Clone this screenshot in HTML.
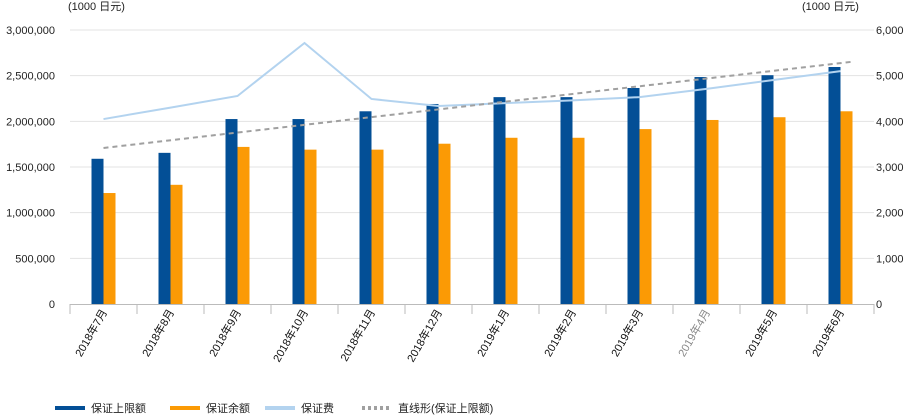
<!DOCTYPE html>
<html><head><meta charset="utf-8"><style>
body{margin:0;background:#fff;}
svg{font-family:"Liberation Sans","Noto Sans CJK SC",sans-serif;}
</style></head><body>
<svg id="c" width="918" height="415" xmlns="http://www.w3.org/2000/svg"></svg>
<script>
const categories=["2018年7月","2018年8月","2018年9月","2018年10月","2018年11月","2018年12月","2019年1月","2019年2月","2019年3月","2019年4月","2019年5月","2019年6月"];
const limitValues=[1590000,1655000,2025000,2025000,2110000,2190000,2265000,2265000,2365000,2485000,2505000,2595000];
const balanceValues=[1215000,1305000,1720000,1690000,1690000,1755000,1820000,1820000,1915000,2015000,2045000,2110000];
const feeValues=[4050,4300,4555,5715,4490,4335,4400,4460,4530,4710,4905,5100];
const leftTicks=["0","500,000","1,000,000","1,500,000","2,000,000","2,500,000","3,000,000"];
const rightTicks=["0","1,000","2,000","3,000","4,000","5,000","6,000"];
const NS="http://www.w3.org/2000/svg",svg=document.getElementById('c');
function mk(t,a,txt){const e=document.createElementNS(NS,t);for(const k in a)e.setAttribute(k,a[k]);if(txt!=null)e.textContent=txt;svg.appendChild(e);return e;}
const X0=70,X1=874,Y0=304,Y1=30,n=categories.length,cw=(X1-X0)/n;
const yL=v=>Y0-(v/3000000)*(Y0-Y1), yR=v=>Y0-(v/6000)*(Y0-Y1), cx=i=>X0+cw*(i+0.5);
leftTicks.forEach((t,i)=>{const y=Y0-i*(Y0-Y1)/6;
 if(i>0){const g=mk('line',{x1:X0,x2:X1,y1:y,y2:y,stroke:'#e3e3e3','stroke-width':1});}
 const a=mk('text',{x:55,y:y+4,'text-anchor':'end','font-size':11,fill:'#222'},t);
 const b=mk('text',{x:876,y:y+4,'font-size':11,fill:'#222'},rightTicks[i]);
});
let e=mk('text',{x:68,y:10,'font-size':11,fill:'#222'},"(1000 日元)");
e=mk('text',{x:802,y:10,'font-size':11,fill:'#222'},"(1000 日元)");
e=mk('line',{x1:X0,x2:X1,y1:Y0+0.5,y2:Y0+0.5,stroke:'#bbb'});
for(let i=0;i<=n;i++){const x=X0+i*cw;const t=mk('line',{x1:x,x2:x,y1:Y0,y2:Y0+10,stroke:'#bbb'});}
categories.forEach((c,i)=>{
 const b=mk('rect',{x:cx(i)-12,y:yL(limitValues[i]),width:12,height:Y0-yL(limitValues[i]),fill:'#034f96'});
 const o=mk('rect',{x:cx(i),y:yL(balanceValues[i]),width:12,height:Y0-yL(balanceValues[i]),fill:'#fb9a05'});
 const x=cx(i)+4,y=312;
 const l=mk('text',{x:x,y:y,'text-anchor':'end','font-size':11,fill:i==9?'#888':'#111',transform:`rotate(-60 ${x} ${y})`},c);
});
const pts=feeValues.map((v,i)=>cx(i)+','+yR(v)).join(' ');
e=mk('polyline',{points:pts,fill:'none',stroke:'#b3d3ef','stroke-width':2});
// linear trend of limitValues
let sx=0,sy=0,sxy=0,sxx=0;limitValues.forEach((v,i)=>{sx+=i;sy+=v;sxy+=i*v;sxx+=i*i;});
const m=(n*sxy-sx*sy)/(n*sxx-sx*sx),b0=(sy-m*sx)/n;
e=mk('line',{x1:cx(0),y1:yL(b0),x2:cx(n-1)+12,y2:yL(b0+m*(n-1+12/cw)),stroke:'#a0a0a0','stroke-width':2,'stroke-dasharray':'5,4'});
const leg=[["保证上限额",'#034f96',null,55],["保证余额",'#fb9a05',null,170],["保证费",'#b3d3ef',null,265],["直线形(保证上限额)",'#a0a0a0','3,3',362]];
leg.forEach(([t,c,d,x])=>{const a={x1:x,x2:x+30,y1:408,y2:408,stroke:c,'stroke-width':4};if(d)a['stroke-dasharray']=d;
 const s=mk('line',a);
 const tx=mk('text',{x:x+36,y:412,'font-size':11,fill:'#222'},t);});
</script>
</body></html>
